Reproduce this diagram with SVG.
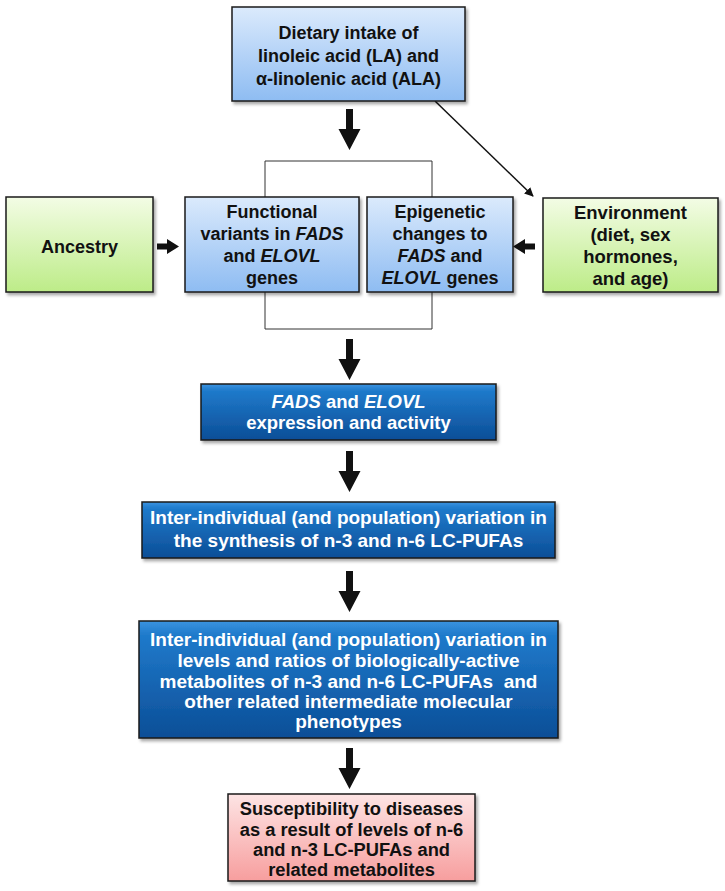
<svg xmlns="http://www.w3.org/2000/svg" width="725" height="891" viewBox="0 0 725 891">
<defs>
<linearGradient id="gLB" x1="0" y1="0" x2="0" y2="1"><stop offset="0" stop-color="#dbeafc"/><stop offset="1" stop-color="#8ebcf2"/></linearGradient>
<linearGradient id="gGR" x1="0" y1="0" x2="0" y2="1"><stop offset="0" stop-color="#f3fce5"/><stop offset="1" stop-color="#bdec88"/></linearGradient>
<linearGradient id="gDB" x1="0" y1="0" x2="0" y2="1"><stop offset="0" stop-color="#3a93e0"/><stop offset="0.12" stop-color="#1f7acb"/><stop offset="1" stop-color="#0c4e97"/></linearGradient>
<linearGradient id="gPK" x1="0" y1="0" x2="0" y2="1"><stop offset="0" stop-color="#fde4e4"/><stop offset="1" stop-color="#f79e9e"/></linearGradient>
<filter id="sh" x="-10%" y="-10%" width="120%" height="130%"><feDropShadow dx="2" dy="2.5" stdDeviation="1.8" flood-color="#000" flood-opacity="0.35"/></filter>
<marker id="ah" viewBox="0 0 10 10" refX="9" refY="5" markerWidth="9" markerHeight="9" markerUnits="userSpaceOnUse" orient="auto"><path d="M0,0 L10,5 L0,10 z" fill="#111"/></marker>
<path id="dArrow" d="M-3.5,0 H3.5 V20 H11 L0,41 L-11,20 H-3.5 Z" fill="#111"/>
</defs>
<style>
.box{stroke:#1a1a1a;stroke-width:1.5;filter:url(#sh)}
.t{font-family:"Liberation Sans",Arial,sans-serif;font-weight:bold;text-anchor:middle;fill:#111}
.w{font-family:"Liberation Sans",Arial,sans-serif;font-weight:bold;text-anchor:middle;fill:#fff}
.i{font-style:italic}
</style>
<rect width="725" height="891" fill="#fff"/>

<g id="connectors" fill="none" stroke="#333">
<path d="M265,197 V161 H432 V197" stroke-width="1"/>
<path d="M265,292 V329 H432 V292" stroke-width="1"/>
<line x1="435" y1="101" x2="533" y2="196" stroke="#111" stroke-width="1.5" marker-end="url(#ah)"/>
<use href="#dArrow" x="349.5" y="109" stroke="none"/>
<use href="#dArrow" x="349.5" y="339" stroke="none"/>
<use href="#dArrow" x="349.5" y="451" stroke="none"/>
<use href="#dArrow" x="349.5" y="571" stroke="none"/>
<use href="#dArrow" x="349.5" y="748" stroke="none"/>
<path d="M157,243.5 H167 V239 L179,246.5 L167,254 V249.5 H157 Z" fill="#111" stroke="none"/>
<path d="M535,243.5 H525 V239 L513,246.5 L525,254 V249.5 H535 Z" fill="#111" stroke="none"/>
</g>

<g id="dietary">
<rect class="box" x="232" y="7" width="233" height="94" fill="url(#gLB)"/>
<text class="t" font-size="18"><tspan x="348.5" y="39">Dietary intake of</tspan><tspan x="348.5" y="62">linoleic acid (LA) and</tspan><tspan x="348.5" y="85">α-linolenic acid (ALA)</tspan></text>
</g>

<g id="ancestry">
<rect class="box" x="6" y="197" width="147" height="95" fill="url(#gGR)"/>
<text class="t" font-size="18" x="79.5" y="253">Ancestry</text>
</g>

<g id="functional">
<rect class="box" x="185" y="197" width="174" height="95" fill="url(#gLB)"/>
<text class="t" font-size="18"><tspan x="272" y="218">Functional</tspan><tspan x="272" y="240">variants in <tspan class="i">FADS</tspan></tspan><tspan x="272" y="262">and <tspan class="i">ELOVL</tspan></tspan><tspan x="272" y="284">genes</tspan></text>
</g>

<g id="epigenetic">
<rect class="box" x="367" y="197" width="146" height="95" fill="url(#gLB)"/>
<text class="t" font-size="18"><tspan x="440" y="218">Epigenetic</tspan><tspan x="440" y="240">changes to</tspan><tspan x="440" y="262"><tspan class="i">FADS</tspan> and</tspan><tspan x="440" y="284"><tspan class="i">ELOVL</tspan> genes</tspan></text>
</g>

<g id="environment">
<rect class="box" x="543" y="198" width="175" height="94" fill="url(#gGR)"/>
<text class="t" font-size="18.5"><tspan x="630.5" y="219">Environment</tspan><tspan x="630.5" y="241">(diet, sex</tspan><tspan x="630.5" y="263">hormones,</tspan><tspan x="630.5" y="285">and age)</tspan></text>
</g>

<g id="expression">
<rect class="box" x="201" y="384" width="295" height="56" fill="url(#gDB)"/>
<text class="w" font-size="18.5"><tspan x="348.5" y="408"><tspan class="i">FADS</tspan> and <tspan class="i">ELOVL</tspan></tspan><tspan x="348.5" y="429">expression and activity</tspan></text>
</g>

<g id="synthesis">
<rect class="box" x="142" y="502" width="413" height="56" fill="url(#gDB)"/>
<text class="w" font-size="19"><tspan x="348.5" y="524">Inter-individual (and population) variation in</tspan><tspan x="348.5" y="547">the synthesis of n-3 and n-6 LC-PUFAs</tspan></text>
</g>

<g id="metabolites">
<rect class="box" x="139" y="621" width="419" height="117" fill="url(#gDB)"/>
<text class="w" font-size="19"><tspan x="348.5" y="646">Inter-individual (and population) variation in</tspan><tspan x="348.5" y="667">levels and ratios of biologically-active</tspan><tspan x="348.5" y="688">metabolites of n-3 and n-6 LC-PUFAs&#160; and</tspan><tspan x="348.5" y="708">other related intermediate molecular</tspan><tspan x="348.5" y="728">phenotypes</tspan></text>
</g>

<g id="susceptibility">
<rect class="box" x="228" y="794" width="247" height="87" fill="url(#gPK)"/>
<text class="t" font-size="18.3"><tspan x="351.5" y="815">Susceptibility to diseases</tspan><tspan x="351.5" y="836">as a result of levels of n-6</tspan><tspan x="351.5" y="856">and n-3 LC-PUFAs and</tspan><tspan x="351.5" y="876">related metabolites</tspan></text>
</g>
</svg>
